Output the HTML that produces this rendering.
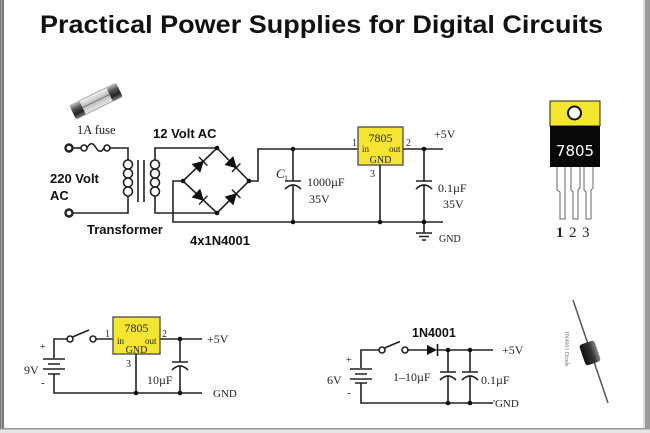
<!DOCTYPE html>
<html><head><meta charset="utf-8"><style>
html,body{margin:0;padding:0;background:#fff;}
svg{display:block;}
.w{stroke:#222;stroke-width:1.6;fill:none;}
.s{font-family:"Liberation Serif",serif;fill:#222;}
.b{font-family:"Liberation Sans",sans-serif;font-weight:bold;fill:#111;}
</style></head><body>
<svg width="650" height="433" viewBox="0 0 650 433" xmlns="http://www.w3.org/2000/svg">
<defs>
<linearGradient id="cap" x1="0" y1="0" x2="0" y2="1">
<stop offset="0" stop-color="#ccc"/><stop offset="0.35" stop-color="#555"/><stop offset="0.7" stop-color="#222"/><stop offset="1" stop-color="#888"/></linearGradient>
<linearGradient id="glass" x1="0" y1="0" x2="0" y2="1">
<stop offset="0" stop-color="#f4f4f4"/><stop offset="0.5" stop-color="#bbb"/><stop offset="1" stop-color="#e8e8e8"/></linearGradient>
<linearGradient id="dbody" x1="0" y1="0" x2="0" y2="1">
<stop offset="0" stop-color="#888"/><stop offset="0.4" stop-color="#333"/><stop offset="1" stop-color="#111"/></linearGradient>
</defs>
<rect width="650" height="433" fill="#fff"/>
<!-- borders -->
<rect x="0" y="0" width="4" height="433" fill="#777"/>
<rect x="1" y="0" width="1" height="433" fill="#aaa"/>
<rect x="643" y="0" width="2" height="433" fill="#ddd"/>
<rect x="645" y="0" width="5" height="433" fill="#999"/>
<rect x="0" y="428" width="650" height="1.5" fill="#999"/>
<rect x="0" y="429.5" width="650" height="4" fill="#e4e4e4"/>

<!-- title -->
<text x="40" y="33" class="b" font-size="25" textLength="563" lengthAdjust="spacingAndGlyphs">Practical Power Supplies for Digital Circuits</text>

<!-- fuse picture -->
<g transform="translate(96,101) rotate(-26)">
<rect x="-25" y="-7.5" width="50" height="15" rx="3" fill="url(#glass)" stroke="#999" stroke-width="0.8"/>
<rect x="-26" y="-8" width="11" height="16" rx="2" fill="url(#cap)"/>
<rect x="15" y="-8" width="11" height="16" rx="2" fill="url(#cap)"/>
<line x1="-15" y1="0" x2="15" y2="0" stroke="#777" stroke-width="1"/>
</g>
<text x="77" y="134" class="s" font-size="12.5" fill="#444">1A fuse</text>

<!-- top circuit: input -->
<circle cx="69" cy="148" r="3.5" fill="#fff" stroke="#222" stroke-width="2.4"/>
<circle cx="69" cy="213" r="3.5" fill="#fff" stroke="#222" stroke-width="2.4"/>
<line class="w" x1="72.5" y1="148" x2="81" y2="148"/>
<circle cx="84" cy="148" r="3" class="w" stroke-width="1.4"/>
<path class="w" stroke-width="1.4" d="M87,148 Q91,140 95.5,147 Q100,155 104,148"/>
<circle cx="107" cy="148" r="3" class="w" stroke-width="1.4"/>
<path class="w" d="M110,148 H128 V160"/>
<g class="w" stroke-width="1.4">
<circle cx="128" cy="164.5" r="4.5"/><circle cx="128" cy="173.5" r="4.5"/><circle cx="128" cy="182.5" r="4.5"/><circle cx="128" cy="191.5" r="4.5"/>
<circle cx="155" cy="164.5" r="4.5"/><circle cx="155" cy="173.5" r="4.5"/><circle cx="155" cy="182.5" r="4.5"/><circle cx="155" cy="191.5" r="4.5"/>
</g>
<path class="w" d="M128,196 V213 H72.5"/>
<line class="w" x1="138" y1="160" x2="138" y2="202"/>
<line class="w" x1="144" y1="160" x2="144" y2="202"/>
<path class="w" d="M155,160 V148 H217"/>
<path class="w" d="M155,196 V213 H217"/>
<text x="153" y="138" class="b" font-size="13">12 Volt AC</text>
<text x="50" y="183" class="b" font-size="13">220 Volt</text>
<text x="50" y="200" class="b" font-size="13">AC</text>
<text x="87" y="234" class="b" font-size="13">Transformer</text>
<text x="190" y="245" class="b" font-size="13">4x1N4001</text>

<!-- bridge -->
<path class="w" d="M217,148 L249,181 L217,213 L183,181 Z"/>
<g fill="#111" stroke="#111" stroke-width="1.4">
<g transform="translate(200,164.5) rotate(-44)"><polygon points="-5,-5 -5,5 4,0"/><line x1="4.5" y1="-6" x2="4.5" y2="6"/></g>
<g transform="translate(233,164.5) rotate(45)"><polygon points="-5,-5 -5,5 4,0"/><line x1="4.5" y1="-6" x2="4.5" y2="6"/></g>
<g transform="translate(200,197) rotate(44)"><polygon points="-5,-5 -5,5 4,0"/><line x1="4.5" y1="-6" x2="4.5" y2="6"/></g>
<g transform="translate(233,197) rotate(-45)"><polygon points="-5,-5 -5,5 4,0"/><line x1="4.5" y1="-6" x2="4.5" y2="6"/></g>
</g>
<g fill="#111">
<circle cx="217" cy="148" r="2.3"/><circle cx="249" cy="181" r="2.3"/><circle cx="217" cy="213" r="2.3"/><circle cx="183" cy="181" r="2.3"/>
</g>
<path class="w" d="M249,181 H258 V149 H358"/>
<path class="w" d="M183,181 H173 V222 H443"/>

<!-- C1 -->
<path class="w" d="M293,149 V181 M285,181 H301 M285,189 Q293,181 301,189 M293,185 V222"/>
<text x="276" y="178" class="s" font-size="13" font-style="italic">C</text>
<text x="284" y="181" class="s" font-size="8">1</text>
<text x="307" y="186" class="s" font-size="12">1000µF</text>
<text x="309" y="203" class="s" font-size="12">35V</text>

<!-- regulator top -->
<rect x="358" y="127" width="45" height="38" fill="#f5e530" stroke="#555" stroke-width="1.4"/>
<text x="380.5" y="142" class="s" font-size="12" text-anchor="middle">7805</text>
<text x="362" y="152" class="s" font-size="9">in</text>
<text x="389" y="152" class="s" font-size="9">out</text>
<text x="380.5" y="163" class="s" font-size="10" text-anchor="middle">GND</text>
<text x="352" y="146" class="s" font-size="10">1</text>
<text x="406" y="146" class="s" font-size="10">2</text>
<text x="370" y="177" class="s" font-size="10">3</text>
<line class="w" x1="380" y1="165" x2="380" y2="222"/>
<line class="w" x1="403" y1="149" x2="443" y2="149"/>
<path class="w" d="M424,149 V181 M416,181 H432 M416,189 Q424,181 432,189 M424,185 V233 M416,233 H432 M419,236.5 H429 M422,240 H426"/>
<g fill="#111"><circle cx="293" cy="149" r="2.3"/><circle cx="424" cy="149" r="2.3"/><circle cx="293" cy="222" r="2.3"/><circle cx="380" cy="222" r="2.3"/><circle cx="424" cy="222" r="2.3"/></g>
<text x="434" y="138" class="s" font-size="12">+5V</text>
<text x="438" y="192" class="s" font-size="12">0.1µF</text>
<text x="443" y="208" class="s" font-size="12">35V</text>
<text x="439" y="242" class="s" font-size="10" fill="#444">GND</text>

<!-- TO-220 -->
<rect x="550" y="101" width="50" height="25" fill="#f3e62c" stroke="#222" stroke-width="1"/>
<circle cx="574.5" cy="113" r="6.5" fill="#fff" stroke="#111" stroke-width="2"/>
<rect x="550" y="126" width="50" height="41" fill="#080808"/>
<text x="575" y="156" font-family="'DejaVu Sans','Liberation Sans',sans-serif" font-size="15" fill="#fff" text-anchor="middle">7805</text>
<g fill="#fff" stroke="#666" stroke-width="1">
<path d="M557,167 V190 L560,192 V219 H565 V167"/>
<path d="M571,167 V190 L573,192 V219 H578 V190 L580,188 V167"/>
<path d="M584,167 V190 L586,192 V219 H591 V190 L593,188 V167"/>
</g>
<text x="556" y="237" class="s" font-size="15" font-weight="bold">1</text>
<text x="569" y="237" class="s" font-size="15">2</text>
<text x="582" y="237" class="s" font-size="15">3</text>

<!-- bottom-left circuit -->
<path class="w" d="M54,358 V339 H67 M96,339 H113 M160,339 H202 M54,374 V393 H202"/>
<circle cx="70" cy="339" r="3" class="w" stroke-width="1.4"/>
<circle cx="93" cy="339" r="3" class="w" stroke-width="1.4"/>
<line class="w" x1="72.5" y1="337" x2="89" y2="330"/>
<path class="w" d="M43,359 H65 M48,364 H60 M43,369 H65 M48,374 H60"/>
<text x="40" y="350" class="s" font-size="10" fill="#666">+</text>
<text x="41" y="386" class="s" font-size="11" fill="#666">-</text>
<text x="24" y="374" class="s" font-size="12">9V</text>
<rect x="113" y="317" width="47" height="37" fill="#f5e530" stroke="#555" stroke-width="1.4"/>
<text x="136.5" y="332" class="s" font-size="12" text-anchor="middle">7805</text>
<text x="117" y="344" class="s" font-size="9">in</text>
<text x="145" y="344" class="s" font-size="9">out</text>
<text x="136.5" y="353" class="s" font-size="10" text-anchor="middle">GND</text>
<text x="105" y="337" class="s" font-size="10">1</text>
<text x="162" y="337" class="s" font-size="10">2</text>
<text x="126" y="367" class="s" font-size="10">3</text>
<line class="w" x1="136" y1="354" x2="136" y2="393"/>
<path class="w" d="M180,339 V362 M172,362 H188 M172,370 Q180,362 188,370 M180,366 V393"/>
<g fill="#111"><circle cx="180" cy="339" r="2.3"/><circle cx="136" cy="393" r="2.3"/><circle cx="180" cy="393" r="2.3"/></g>
<text x="147" y="384" class="s" font-size="12">10µF</text>
<text x="207" y="343" class="s" font-size="12">+5V</text>
<text x="213" y="397" class="s" font-size="11">GND</text>

<!-- bottom-right circuit -->
<text x="412" y="337" class="b" font-size="12.5">1N4001</text>
<path class="w" d="M361,368 V350 H379 M408,350 H427 M437,350 H493 M361,383 V403 H493"/>
<circle cx="382" cy="350" r="3" class="w" stroke-width="1.4"/>
<circle cx="405" cy="350" r="3" class="w" stroke-width="1.4"/>
<line class="w" x1="384.5" y1="348" x2="400" y2="341.5"/>
<polygon points="427,345 427,355 437,350" fill="#111"/>
<line x1="437.5" y1="344" x2="437.5" y2="356" stroke="#111" stroke-width="1.6"/>
<path class="w" d="M350,369 H372 M355,374 H367 M350,379 H372 M355,383 H367"/>
<text x="346" y="363" class="s" font-size="10" fill="#666">+</text>
<text x="347" y="396" class="s" font-size="11" fill="#666">-</text>
<text x="327" y="384" class="s" font-size="12">6V</text>
<path class="w" d="M448,350 V372 M440,372 H456 M440,380 Q448,372 456,380 M448,376 V403"/>
<path class="w" d="M470,350 V372 M462,372 H478 M462,380 Q470,372 478,380 M470,376 V403"/>
<g fill="#111"><circle cx="448" cy="350" r="2.3"/><circle cx="470" cy="350" r="2.3"/><circle cx="448" cy="403" r="2.3"/><circle cx="470" cy="403" r="2.3"/></g>
<text x="393" y="381" class="s" font-size="12">1–10µF</text>
<text x="481" y="384" class="s" font-size="12">0.1µF</text>
<text x="502" y="354" class="s" font-size="12">+5V</text>
<text x="493" y="407" class="s" font-size="11">'GND</text>

<!-- diode picture -->
<line x1="573" y1="300" x2="608" y2="403" stroke="#555" stroke-width="1.5"/>
<g transform="translate(590,353) rotate(71)">
<rect x="-11" y="-8" width="22" height="16" rx="3" fill="url(#dbody)"/>
</g>
<text x="0" y="0" transform="translate(565,331) rotate(90)" font-family="'Liberation Serif',serif" font-size="6" fill="#777">1N4001 Diode</text>
</svg>
</body></html>
